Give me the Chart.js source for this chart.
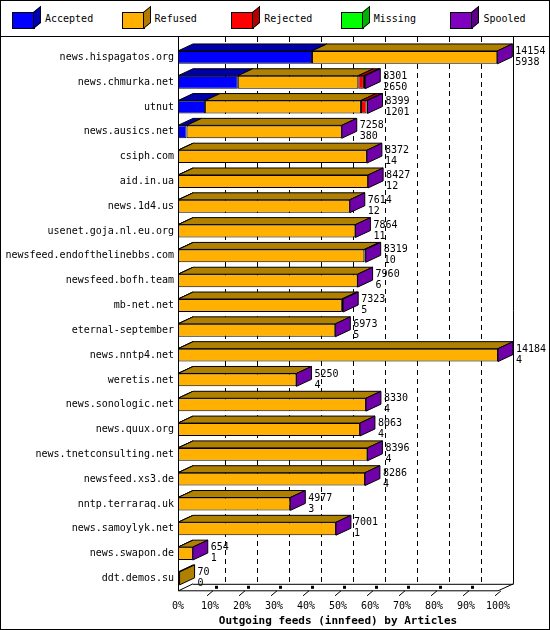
<!DOCTYPE html>
<html><head><meta charset="utf-8">
<script src="https://cdn.jsdelivr.net/npm/chart.js@4"></script>
<style>
body{margin:0;background:#fff;font-family:"DejaVu Sans Mono",monospace;}
#wrap{position:relative;width:548px;height:628px;border:1px solid #000;overflow:hidden}
#legend{height:35px;border-bottom:1px solid #000;display:flex;align-items:center;font-size:10px}
.li{display:flex;align-items:center;width:110px;padding-left:11px;box-sizing:border-box}
.bx{width:21px;height:15px;border:1px solid #000;margin-right:10px;position:relative;margin-top:4px}
.bx:after{content:"";position:absolute;right:-7px;top:-4px;width:6px;height:15px;background:inherit;filter:brightness(0.7);transform:skewY(-40deg);border:1px solid #000}
#c{position:absolute;left:0;top:36px}
</style></head><body>
<div id="wrap">
<div id="legend"></div>
<canvas id="c" width="548" height="592"></canvas>
</div>
<script>
const feeds=["news.hispagatos.org","news.chmurka.net","utnut","news.ausics.net","csiph.com","aid.in.ua","news.1d4.us","usenet.goja.nl.eu.org","newsfeed.endofthelinebbs.com","newsfeed.bofh.team","mb-net.net","eternal-september","news.nntp4.net","weretis.net","news.sonologic.net","news.quux.org","news.tnetconsulting.net","newsfeed.xs3.de","nntp.terraraq.uk","news.samoylyk.net","news.swapon.de","ddt.demos.su"];
const totals=[14154,8301,8399,7258,8372,8427,7614,7864,8319,7960,7323,6973,14184,5250,8330,8063,8396,8286,4977,7001,654,70];
const accepted=[5938,2650,1201,380,14,12,12,11,10,6,5,5,4,4,4,4,4,4,3,1,1,0];
const refused=[8216,5341,6908,6878,8358,8415,7602,7853,8249,7954,7258,6968,14180,5246,8326,8059,8392,8282,4974,7000,653,70];
const rejected=[0,250,250,0,0,0,0,0,0,0,0,0,0,0,0,0,0,0,0,0,0,0];
const missing=[0,0,0,0,0,0,0,0,0,0,0,0,0,0,0,0,0,0,0,0,0,0];
const spooled=[0,60,40,0,0,0,0,0,60,0,60,0,0,0,0,0,0,0,0,0,0,0];
const xTicks=["0%","10%","20%","30%","40%","50%","60%","70%","80%","90%","100%"];
const series=[["Accepted",accepted,"#0000ff","#0000a8"],["Refused",refused,"#ffb000","#b08000"],["Rejected",rejected,"#ff0000","#b00000"],["Missing",missing,"#00ff00","#00b000"],["Spooled",spooled,"#8000c0","#6000a0"]];
const maxT=Math.max(...totals);
const DX=15,DY=7;
const F='"DejaVu Sans Mono"';
const lg=document.getElementById('legend');
series.forEach(s=>{lg.insertAdjacentHTML('beforeend',`<div class="li"><div class="bx" style="background:${s[2]}"></div><span>${s[0]}</span></div>`)});
const threeD={id:'threeD',
beforeDatasetsDraw(ch){const {ctx,chartArea:a,scales:{x}}=ch;ctx.save();ctx.strokeStyle='#000';ctx.lineWidth=1;
 ctx.setLineDash([5,4]);
 for(let i=1;i<10;i++){const px=Math.round(x.getPixelForValue(maxT*i/10)+DX)+0.5;ctx.beginPath();ctx.moveTo(px,0);ctx.lineTo(px,a.bottom-DY);ctx.stroke();}
 ctx.setLineDash([]);
 const R=Math.round(x.getPixelForValue(maxT)+DX)+0.5;
 ctx.beginPath();ctx.moveTo(a.left+0.5,0);ctx.lineTo(a.left+0.5,a.bottom);ctx.lineTo(a.right,a.bottom);ctx.lineTo(R,a.bottom-DY);ctx.lineTo(R,0);
 ctx.moveTo(a.left+DX,a.bottom-DY+0.5);ctx.lineTo(R,a.bottom-DY+0.5);ctx.moveTo(a.left+0.5,a.bottom);ctx.lineTo(a.left+DX,a.bottom-DY);ctx.stroke();
 for(let i=1;i<=10;i++){const px=x.getPixelForValue(maxT*i/10);ctx.beginPath();ctx.moveTo(px-3,a.bottom+5);ctx.lineTo(px+3,a.bottom);ctx.stroke();if(i<10)ctx.fillRect(px+5,a.bottom-5,3,3);}
 ctx.restore();},
afterDatasetsDraw(ch){const {ctx,scales:{x}}=ch;ctx.save();ctx.strokeStyle='#000';ctx.lineWidth=1;
 const n=feeds.length;
 for(let i=0;i<n;i++){let lastEl=null,lastDs=-1;
  for(let d=0;d<series.length;d++){const el=ch.getDatasetMeta(d).data[i];const v=series[d][1][i];if(!v)continue;
   const l=Math.min(el.base,el.x),r=Math.max(el.base,el.x),t=el.y-el.height/2;
   ctx.fillStyle=series[d][3];ctx.beginPath();ctx.moveTo(l,t);ctx.lineTo(l+DX,t-DY);ctx.lineTo(r+DX,t-DY);ctx.lineTo(r,t);ctx.closePath();ctx.fill();ctx.stroke();
   lastEl=el;lastDs=d;}
  if(lastEl){const r=lastEl.x,t=lastEl.y-lastEl.height/2,b=lastEl.y+lastEl.height/2;
   ctx.fillStyle=totals[i]<100?'#b08000':'#7000a8';
   ctx.beginPath();ctx.moveTo(r,t);ctx.lineTo(r+DX,t-DY);ctx.lineTo(r+DX,b-DY);ctx.lineTo(r,b);ctx.closePath();ctx.fill();ctx.stroke();
   ctx.fillStyle='#000';ctx.font='10px '+F;ctx.textBaseline='middle';
   ctx.fillText(String(totals[i]),r+DX+3,lastEl.y-6);ctx.fillText(String(accepted[i]),r+DX+3,lastEl.y+5);}
 }
 ctx.restore();}};
new Chart(document.getElementById('c'),{type:'bar',
data:{labels:feeds,datasets:series.map(s=>({label:s[0],data:s[1],backgroundColor:s[2],borderColor:'#000',borderWidth:1,borderSkipped:false,barPercentage:0.52,categoryPercentage:1}))},
options:{indexAxis:'y',responsive:false,animation:false,
 layout:{padding:{top:8,right:51,left:0,bottom:0}},
 plugins:{legend:{display:false},tooltip:{enabled:false}},
 scales:{
  x:{stacked:true,min:0,max:maxT,afterBuildTicks(ax){ax.ticks=xTicks.map((t,i)=>({value:maxT*i/10}));},
   ticks:{color:'#000',font:{family:'DejaVu Sans Mono',size:10},callback:(v,i)=>xTicks[i],maxRotation:0,padding:2},
   grid:{display:false},border:{display:false},
   title:{display:true,text:'Outgoing feeds (innfeed) by Articles',color:'#000',font:{family:'DejaVu Sans Mono',size:11,weight:'bold'},padding:{top:0,bottom:1}}},
  y:{stacked:true,afterFit(ax){ax.width=177;},ticks:{color:'#000',font:{family:'DejaVu Sans Mono',size:10},padding:-4,autoSkip:false},grid:{display:false},border:{display:false}}
 }},plugins:[threeD]});
</script>
</body></html>
